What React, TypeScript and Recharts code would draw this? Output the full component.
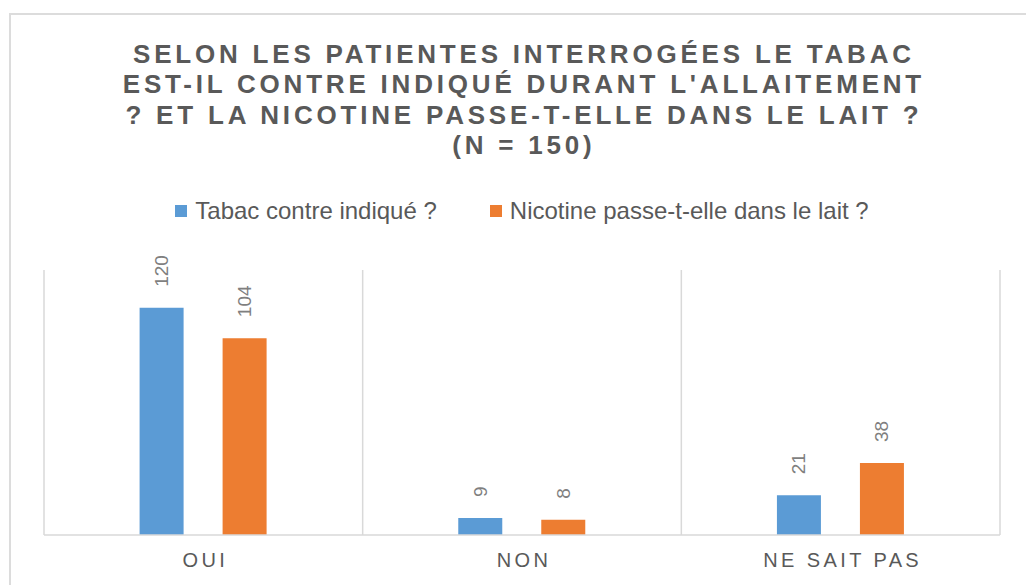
import { Bar, BarChart, CartesianGrid, LabelList, XAxis, YAxis } from "recharts";

const categories = ["OUI", "NON", "NE SAIT PAS"];
const tabacValues = [120, 9, 21];
const nicotineValues = [104, 8, 38];
const seriesNames = ["Tabac contre indiqué ?", "Nicotine passe-t-elle dans le lait ?"];
const titleLines = [
  "SELON LES PATIENTES INTERROGÉES LE TABAC",
  "EST-IL CONTRE INDIQUÉ DURANT L'ALLAITEMENT",
  "? ET LA NICOTINE PASSE-T-ELLE DANS LE LAIT ?",
  "(N = 150)",
];

const data = categories.map((cat, i) => ({
  cat,
  tabac: tabacValues[i],
  nicotine: nicotineValues[i],
}));

const FONT = "'Liberation Sans', Arial, sans-serif";
const GRIS = "#595959";
const BLEU = "#5b9bd5";
const ORANGE = "#ed7d31";
const couleurs = [BLEU, ORANGE];

// étiquette de valeur tournée de 90°, au-dessus de la barre
function EtiquetteVerticale(props: any) {
  const { x, y, width, value } = props;
  const cx = Number(x) + Number(width) / 2;
  const ay = Number(y) - 21;
  return (
    <text
      x={cx}
      y={ay}
      transform={`rotate(-90 ${cx} ${ay})`}
      textAnchor="start"
      dominantBaseline="central"
      fill="#7f7f7f"
      fontSize={19}
      fontFamily={FONT}
    >
      {value}
    </text>
  );
}

function TickCategorie(props: any) {
  const { x, y, payload } = props;
  return (
    <text
      x={x}
      y={y + 24}
      dx={2}
      textAnchor="middle"
      fill={GRIS}
      fontSize={20}
      fontFamily={FONT}
      letterSpacing={3.4}
    >
      {payload.value}
    </text>
  );
}

export default function App() {
  return (
    <div
      style={{
        position: "fixed",
        left: 0,
        top: 0,
        width: 1026,
        height: 585,
        background: "#fff",
        overflow: "hidden",
      }}
    >
      <div
        style={{
          position: "absolute",
          left: 9,
          top: 13,
          width: 1100,
          height: 700,
          border: "2px solid #dcdcdc",
        }}
      />
      <div
        style={{
          position: "absolute",
          top: 39,
          left: 0,
          width: 1044,
          textAlign: "center",
          fontFamily: FONT,
          fontWeight: "bold",
          fontSize: 26,
          lineHeight: "30.3px",
          letterSpacing: 3.8,
          paddingLeft: 3.8,
          color: GRIS,
          boxSizing: "border-box",
        }}
      >
        {titleLines.map((l) => (
          <div key={l}>{l}</div>
        ))}
      </div>
      <div
        style={{
          position: "absolute",
          top: 197,
          left: 0,
          width: 1044,
          display: "flex",
          justifyContent: "center",
          gap: 53,
          fontFamily: FONT,
        }}
      >
        {seriesNames.map((nom, i) => (
          <div key={nom} style={{ display: "flex", alignItems: "center" }}>
            <span style={{ width: 12, height: 12, background: couleurs[i], marginRight: 8, display: "inline-block" }} />
            <span style={{ fontSize: 24, color: GRIS, lineHeight: "28px" }}>{nom}</span>
          </div>
        ))}
      </div>
      <div style={{ position: "absolute", left: 0, top: 0 }}>
        <BarChart
          width={1026}
          height={585}
          data={data}
          margin={{ top: 270, right: 26, bottom: 20, left: 44 }}
          barCategoryGap="30%"
          barGap={39}
        >
          <CartesianGrid
            horizontal={false}
            stroke="#d9d9d9"
            strokeWidth={1.5}
            verticalCoordinatesGenerator={({ offset }: any) =>
              [0, 1, 2, 3].map((i) => offset.left + (i * offset.width) / categories.length)
            }
          />
          <XAxis
            dataKey="cat"
            height={30}
            axisLine={{ stroke: "#d9d9d9", strokeWidth: 1.5 }}
            tickLine={false}
            tick={<TickCategorie />}
            interval={0}
          />
          <YAxis hide domain={[0, 140]} />
          <Bar dataKey="tabac" name={seriesNames[0]} fill={BLEU} isAnimationActive={false}>
            <LabelList dataKey="tabac" content={<EtiquetteVerticale />} />
          </Bar>
          <Bar dataKey="nicotine" name={seriesNames[1]} fill={ORANGE} isAnimationActive={false}>
            <LabelList dataKey="nicotine" content={<EtiquetteVerticale />} />
          </Bar>
        </BarChart>
      </div>
    </div>
  );
}
